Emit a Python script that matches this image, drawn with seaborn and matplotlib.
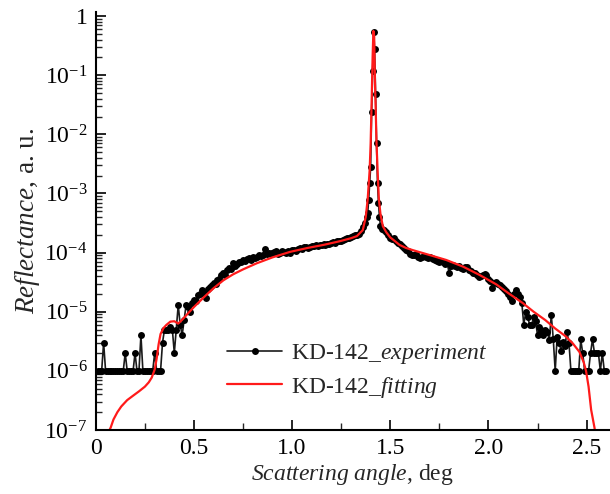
import matplotlib
matplotlib.use("Agg")
import matplotlib.pyplot as plt
import matplotlib.ticker as mticker
import seaborn as sns
import pandas as pd
import numpy as np

# ---- data ----
exp_x = [0.01, 0.02, 0.03, 0.04, 0.05, 0.06, 0.07, 0.08, 0.09, 0.10,
         0.11, 0.12, 0.13, 0.14, 0.15, 0.16, 0.17, 0.18, 0.19, 0.20,
         0.21, 0.22, 0.23, 0.24, 0.25, 0.26, 0.27, 0.28, 0.29, 0.30,
         0.31, 0.32, 0.33, 0.34, 0.35, 0.36, 0.37, 0.38, 0.39, 0.40,
         0.41, 0.42, 0.43, 0.44, 0.45, 0.46, 0.47, 0.48, 0.49, 0.50,
         0.51, 0.52, 0.53, 0.54, 0.55, 0.56, 0.57, 0.58, 0.59, 0.60,
         0.61, 0.62, 0.63, 0.64, 0.65, 0.66, 0.67, 0.68, 0.69, 0.70,
         0.71, 0.72, 0.73, 0.74, 0.75, 0.76, 0.77, 0.78, 0.79, 0.80,
         0.81, 0.82, 0.83, 0.84, 0.85, 0.86, 0.87, 0.88, 0.89, 0.90,
         0.91, 0.92, 0.93, 0.94, 0.95, 0.96, 0.97, 0.98, 0.99, 1.00,
         1.01, 1.02, 1.03, 1.04, 1.05, 1.06, 1.07, 1.08, 1.09, 1.10,
         1.11, 1.12, 1.13, 1.14, 1.15, 1.16, 1.17, 1.18, 1.19, 1.20,
         1.21, 1.22, 1.23, 1.24, 1.25, 1.26, 1.27, 1.28, 1.29, 1.30,
         1.31, 1.32, 1.33, 1.34, 1.35, 1.36, 1.37, 1.38, 1.385, 1.39,
         1.395, 1.40, 1.405, 1.41, 1.416, 1.42, 1.425, 1.43, 1.435, 1.44,
         1.445, 1.45, 1.46, 1.47, 1.48, 1.49, 1.50, 1.51, 1.52, 1.53,
         1.54, 1.55, 1.56, 1.57, 1.58, 1.59, 1.60, 1.61, 1.62, 1.63,
         1.64, 1.65, 1.66, 1.67, 1.68, 1.69, 1.70, 1.71, 1.72, 1.73,
         1.74, 1.75, 1.76, 1.77, 1.78, 1.79, 1.80, 1.81, 1.82, 1.83,
         1.84, 1.85, 1.86, 1.87, 1.88, 1.89, 1.90, 1.91, 1.92, 1.93,
         1.94, 1.95, 1.96, 1.97, 1.98, 1.99, 2.00, 2.01, 2.02, 2.03,
         2.04, 2.05, 2.06, 2.07, 2.08, 2.09, 2.10, 2.11, 2.12, 2.13,
         2.14, 2.15, 2.16, 2.17, 2.18, 2.19, 2.20, 2.21, 2.22, 2.23,
         2.24, 2.25, 2.26, 2.27, 2.28, 2.29, 2.30, 2.31, 2.32, 2.33,
         2.34, 2.35, 2.36, 2.37, 2.38, 2.39, 2.40, 2.41, 2.42, 2.43,
         2.44, 2.45, 2.46, 2.47, 2.48, 2.49, 2.50, 2.51, 2.52, 2.53,
         2.54, 2.55, 2.56, 2.57, 2.58, 2.59, 2.60]
exp_y = [1.0e-6, 1.0e-6, 1.0e-6, 3.0e-6, 1.0e-6, 1.0e-6, 1.0e-6, 1.0e-6, 1.0e-6, 1.0e-6,
         1.0e-6, 1.0e-6, 1.0e-6, 1.0e-6, 2.0e-6, 1.0e-6, 1.0e-6, 1.0e-6, 1.0e-6, 2.0e-6,
         1.0e-6, 1.0e-6, 4.0e-6, 1.0e-6, 1.0e-6, 1.0e-6, 1.0e-6, 1.0e-6, 1.0e-6, 2.0e-6,
         1.0e-6, 1.0e-6, 1.0e-6, 3.0e-6, 5.0e-6, 5.0e-6, 5.0e-6, 5.5e-6, 5.0e-6, 2.0e-6,
         5.0e-6, 1.3e-5, 6.0e-6, 4.0e-6, 7.2e-6, 1.3e-5, 1.2e-5, 1.0e-5, 1.4e-5, 1.6e-5,
         1.5e-5, 1.9e-5, 2.0e-5, 2.3e-5, 2.1e-5, 1.7e-5, 2.4e-5, 2.6e-5, 2.8e-5, 3.1e-5,
         3.0e-5, 3.5e-5, 3.6e-5, 4.2e-5, 4.5e-5, 4.1e-5, 5.0e-5, 5.4e-5, 5.2e-5, 6.6e-5,
         6.0e-5, 6.3e-5, 7.0e-5, 6.8e-5, 7.5e-5, 7.2e-5, 7.8e-5, 8.0e-5, 7.6e-5, 8.3e-5,
         8.0e-5, 8.5e-5, 9.0e-5, 8.6e-5, 9.2e-5, 1.15e-4, 9.5e-5, 1.0e-4, 9.6e-5, 9.8e-5,
         1.03e-4, 1.05e-4, 9.5e-5, 1.0e-4, 1.08e-4, 1.02e-4, 1.0e-4, 1.05e-4, 1.0e-4, 1.1e-4,
         1.12e-4, 1.08e-4, 1.15e-4, 1.2e-4, 1.16e-4, 1.22e-4, 1.26e-4, 1.2e-4, 1.25e-4, 1.3e-4,
         1.27e-4, 1.32e-4, 1.3e-4, 1.35e-4, 1.33e-4, 1.38e-4, 1.35e-4, 1.4e-4, 1.42e-4, 1.45e-4,
         1.5e-4, 1.47e-4, 1.55e-4, 1.6e-4, 1.58e-4, 1.65e-4, 1.7e-4, 1.75e-4, 1.8e-4, 1.85e-4,
         1.9e-4, 1.95e-4, 2.0e-4, 2.1e-4, 2.3e-4, 2.7e-4, 3.2e-4, 4.0e-4, 4.6e-4, 7.8e-4,
         1.5e-3, 2.8e-3, 2.4e-2, 1.2e-1, 5.3e-1, 2.8e-1, 4.9e-2, 7.0e-3, 1.5e-3, 6.8e-4,
         4.0e-4, 2.8e-4, 2.5e-4, 2.4e-4, 2.2e-4, 2.0e-4, 1.8e-4, 1.7e-4, 1.75e-4, 1.55e-4,
         1.45e-4, 1.4e-4, 1.3e-4, 1.2e-4, 1.1e-4, 1.05e-4, 9.5e-5, 9.2e-5, 9.0e-5, 9.3e-5,
         8.5e-5, 8.0e-5, 8.3e-5, 8.8e-5, 8.5e-5, 8.2e-5, 8.5e-5, 8.0e-5, 7.7e-5, 7.5e-5,
         7.2e-5, 7.0e-5, 7.3e-5, 6.8e-5, 6.5e-5, 6.6e-5, 4.5e-5, 6.0e-5, 6.2e-5, 6.0e-5,
         5.8e-5, 5.9e-5, 5.5e-5, 5.2e-5, 5.6e-5, 5.8e-5, 5.0e-5, 4.8e-5, 4.5e-5, 4.6e-5,
         4.2e-5, 3.9e-5, 4.0e-5, 4.1e-5, 4.3e-5, 4.2e-5, 3.6e-5, 3.3e-5, 2.5e-5, 3.1e-5,
         3.2e-5, 3.0e-5, 2.8e-5, 2.6e-5, 2.4e-5, 2.2e-5, 2.0e-5, 1.8e-5, 1.5e-5, 2.0e-5,
         2.3e-5, 2.0e-5, 1.8e-5, 1.4e-5, 6.0e-6, 1.0e-5, 8.0e-6, 6.0e-6, 6.0e-6, 8.3e-6,
         7.0e-6, 4.0e-6, 5.6e-6, 5.0e-6, 4.0e-6, 5.0e-6, 4.5e-6, 3.3e-6, 8.8e-6, 3.5e-6,
         1.0e-6, 3.8e-6, 3.0e-6, 2.2e-6, 3.1e-6, 2.6e-6, 4.6e-6, 3.0e-6, 1.0e-6, 1.0e-6,
         1.0e-6, 1.0e-6, 1.0e-6, 3.4e-6, 2.0e-6, 1.0e-6, 1.0e-6, 1.0e-6, 2.0e-6, 3.4e-6,
         2.0e-6, 2.0e-6, 2.0e-6, 1.0e-6, 2.0e-6, 1.0e-6, 1.0e-6]

fit_x = [0.07, 0.076, 0.09, 0.11, 0.13, 0.16, 0.19, 0.22, 0.25, 0.27,
         0.285, 0.30, 0.31, 0.32, 0.33, 0.345, 0.36, 0.38, 0.40, 0.41,
         0.42, 0.44, 0.47, 0.50, 0.55, 0.60, 0.65, 0.70, 0.75, 0.82,
         0.90, 0.99, 1.08, 1.16, 1.24, 1.30, 1.33, 1.36, 1.375, 1.385,
         1.395, 1.40, 1.405, 1.41, 1.414, 1.418, 1.422, 1.426, 1.43, 1.436,
         1.442, 1.45, 1.462, 1.48, 1.50, 1.52, 1.547, 1.58, 1.615, 1.70,
         1.785, 1.87, 1.954, 2.04, 2.107, 2.175, 2.23, 2.29, 2.34, 2.395,
         2.43, 2.463, 2.485, 2.497, 2.51, 2.523, 2.54, 2.555]
fit_y = [1.0e-7, 1.1e-7, 1.5e-7, 2.0e-7, 2.5e-7, 3.2e-7, 3.8e-7, 4.5e-7, 5.4e-7, 6.4e-7,
         7.7e-7, 1.05e-6, 1.6e-6, 2.8e-6, 4.2e-6, 5.3e-6, 6.0e-6, 6.8e-6, 6.9e-6, 6.6e-6,
         6.3e-6, 7.3e-6, 9.4e-6, 1.2e-5, 1.75e-5, 2.5e-5, 3.4e-5, 4.3e-5, 5.2e-5, 6.6e-5,
         8.3e-5, 1.03e-4, 1.2e-4, 1.35e-4, 1.55e-4, 1.75e-4, 1.9e-4, 2.4e-4, 4.0e-4, 8.0e-4,
         2.5e-3, 7.0e-3, 3.5e-2, 2.0e-1, 5.6e-1, 4.5e-1, 8.0e-2, 2.5e-2, 7.0e-3, 2.2e-3,
         8.0e-4, 4.5e-4, 2.8e-4, 2.2e-4, 1.8e-4, 1.6e-4, 1.35e-4, 1.2e-4, 1.1e-4, 9.1e-5,
         7.5e-5, 5.8e-5, 4.2e-5, 2.9e-5, 2.0e-5, 1.4e-5, 1.0e-5, 7.2e-6, 5.2e-6, 3.8e-6,
         2.9e-6, 2.1e-6, 1.4e-6, 1.0e-6, 5.4e-7, 2.2e-7, 1.1e-7, 5.0e-8]

legend_labels = ["KD-142_$\\mathit{experiment}$", "KD-142_$\\mathit{fitting}$"]
x_label = "$\\mathit{Scattering\\ angle}$, deg"
y_label = "$\\mathit{Reflectance}$, a. u."
x_ticks = [0, 0.5, 1.0, 1.5, 2.0, 2.5]
x_ticklabels = ["0", "0.5", "1.0", "1.5", "2.0", "2.5"]
y_exponents = [-7, -6, -5, -4, -3, -2, -1, 0]

# ---- style ----
sns.set_style("ticks")
plt.rcParams["font.family"] = ["Liberation Serif", "DejaVu Serif"]
plt.rcParams["mathtext.fontset"] = "custom"
plt.rcParams["mathtext.rm"] = "Liberation Serif"
plt.rcParams["mathtext.it"] = "Liberation Serif:italic"
plt.rcParams["mathtext.bf"] = "Liberation Serif:bold"

FS = 17

fig = plt.figure(figsize=(6.1, 4.94), dpi=100)
ax = fig.add_axes([0.157, 0.1296, 0.842, 0.846])

df_exp = pd.DataFrame({"x": exp_x, "y": exp_y})
df_fit = pd.DataFrame({"x": fit_x, "y": fit_y})

sns.lineplot(data=df_exp, x="x", y="y", ax=ax, color="#1a1a1a", lw=1.2,
             marker="o", markersize=5.0, markeredgewidth=0,
             markerfacecolor="black", label=legend_labels[0],
             estimator=None, sort=False)
sns.lineplot(data=df_fit, x="x", y="y", ax=ax, color="#ff1a1a", lw=1.6,
             label=legend_labels[1], estimator=None, sort=False)

ax.set_yscale("log")
ax.set_xlim(0, 2.616)
ax.set_ylim(1e-7, 1.17)

ax.set_xticks(x_ticks)
ax.set_xticklabels(x_ticklabels)
ax.xaxis.set_minor_locator(mticker.FixedLocator([0.25, 0.75, 1.25, 1.75, 2.25]))

y_major = [10.0 ** e for e in y_exponents]
y_minor = [m * 10.0 ** e for e in y_exponents[:-1] for m in range(2, 10)]
ax.yaxis.set_major_locator(mticker.FixedLocator(y_major))
ax.yaxis.set_minor_locator(mticker.FixedLocator(y_minor))
ax.set_yticklabels(["1" if e == 0 else "$10^{%d}$" % e for e in y_exponents])
ax.yaxis.set_minor_formatter(mticker.NullFormatter())

ax.tick_params(axis="both", which="major", direction="in", length=7, width=1.2,
               labelsize=FS, colors="black", pad=6)
ax.tick_params(axis="y", which="minor", direction="in", length=4, width=1.0)
ax.tick_params(axis="x", which="minor", direction="in", length=5, width=1.0)

for s in ["top", "right"]:
    ax.spines[s].set_visible(False)
for s in ["left", "bottom"]:
    ax.spines[s].set_linewidth(1.5)
    ax.spines[s].set_color("black")

ax.set_xlabel(x_label, fontsize=FS, labelpad=2)
ax.set_ylabel(y_label, fontsize=19.5, labelpad=2)

leg = ax.legend(loc="lower left", bbox_to_anchor=(0.237, 0.05), frameon=False,
                fontsize=FS, handlelength=2.35, handletextpad=0.35, labelspacing=0.35,
                borderaxespad=0)

fig.savefig("out.png", dpi=100)
